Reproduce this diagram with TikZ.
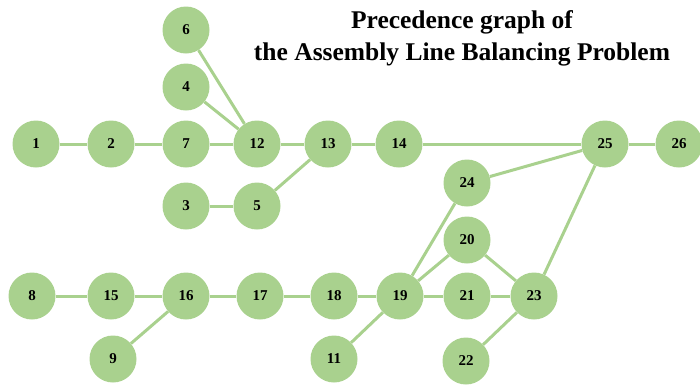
\documentclass[tikz,border=0pt]{standalone}
\usepackage{fontspec}
\setmainfont{Liberation Serif}
\usepackage{tikz}
\definecolor{leaf}{HTML}{A9D18E}
\tikzset{task/.style = {fill = leaf, circle, inner sep = 0, minimum size = 47pt, font = \fontsize{15}{15}\selectfont\bfseries},
  link/.style = {draw = leaf, line width = 3pt}}

\begin{document}
\begin{tikzpicture}[x=1pt, y=-1pt]
    \useasboundingbox (0, 0) rectangle (700, 384);
    \node at (462, 38) [align = center, font = \fontsize{25.5}{32}\selectfont\bfseries] {Precedence graph of\\the Assembly Line Balancing Problem};
    % upper line
    \node (n1) at (36, 144) [task] {1};
    \node (n2) at (111, 144) [task] {2};
    \node (n7) at (186, 144) [task] {7};
    \node (n12) at (257, 144) [task] {12};
    \node (n13) at (328, 144) [task] {13};
    \node (n14) at (399, 144) [task] {14};
    \node (n25) at (605, 144) [task] {25};
    \node (n26) at (679, 144) [task] {26};
    \node (n6) at (186, 30) [task] {6};
    \node (n4) at (186, 87) [task] {4};
    \node (n3) at (186, 206) [task] {3};
    \node (n5) at (257, 206) [task] {5};
    % lower line
    \node (n8) at (32, 296) [task] {8};
    \node (n15) at (111, 296) [task] {15};
    \node (n16) at (186, 296) [task] {16};
    \node (n17) at (260, 296) [task] {17};
    \node (n18) at (334, 296) [task] {18};
    \node (n19) at (400, 296) [task] {19};
    \node (n21) at (467, 296) [task] {21};
    \node (n23) at (534, 296) [task] {23};
    \node (n24) at (467, 183) [task] {24};
    \node (n20) at (467, 240) [task] {20};
    \node (n9) at (113, 359) [task] {9};
    \node (n11) at (334, 359) [task] {11};
    \node (n22) at (466, 361) [task] {22};
    % precedences
    \foreach \a/\b in {n1/n2, n2/n7, n7/n12, n6/n12, n4/n12, n12/n13, n3/n5, n5/n13,
      n13/n14, n14/n25, n25/n26, n24/n25, n23/n25, n8/n15, n15/n16, n9/n16, n16/n17,
      n17/n18, n18/n19, n11/n19, n19/n24, n19/n20, n19/n21, n21/n23, n20/n23, n22/n23}
      \draw [link] (\a) -- (\b);
  \end{tikzpicture}
\end{document}
